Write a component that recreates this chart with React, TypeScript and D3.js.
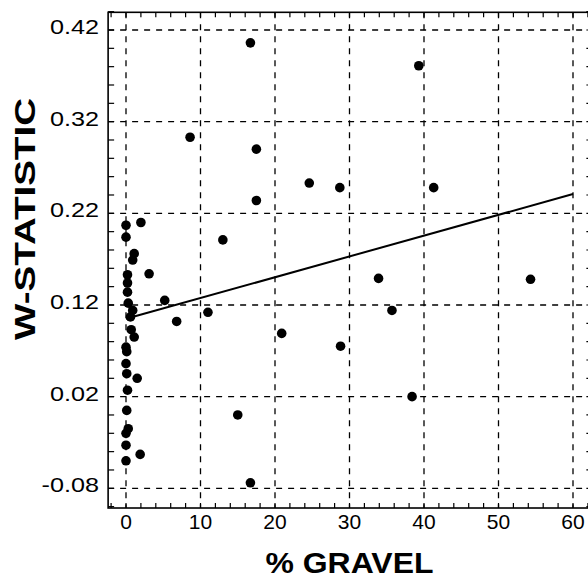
import React from "react";
import * as d3 from "d3";

const gravel = [
  0, 2.0, 0, 1.1, 0.9, 0.2, 3.1, 0.2, 0.2, 0.3, 5.2, 0.9, 0.6, 0.7, 1.1, 0, 0.1, 0, 0.1, 1.5, 0.2, 0.1, 0.3, 0, 0, 1.9, 0, 6.8,
  8.6, 17.5, 24.6, 28.7, 41.3, 17.5, 13.0, 33.9, 54.3, 11.0, 35.7, 20.9, 28.8, 38.4, 15.0, 16.7, 16.7, 39.3,
];
const wStat = [
  0.207, 0.21, 0.194, 0.176, 0.169, 0.153, 0.154, 0.144, 0.134, 0.122, 0.125, 0.114, 0.107, 0.093, 0.085, 0.074, 0.069, 0.056, 0.045, 0.04, 0.027, 0.005, -0.015, -0.02, -0.033, -0.043, -0.05, 0.102,
  0.303, 0.29, 0.253, 0.248, 0.248, 0.234, 0.191, 0.149, 0.148, 0.112, 0.114, 0.089, 0.075, 0.02, 0.0, -0.074, 0.406, 0.381,
];
const xTicks = [0, 10, 20, 30, 40, 50, 60];
const yTicks = [-0.08, 0.02, 0.12, 0.22, 0.32, 0.42];
const yTickLabels = ["-0.08", "0.02", "0.12", "0.22", "0.32", "0.42"];
const fitIntercept = 0.1049;
const fitSlope = 0.002269;
const fitRange = [0, 60];
const xDomain = [-2.4, 62.6];
const yDomain = [-0.1015, 0.4393];

const charW: Record<string, number> = { "-": 0.333, ".": 0.278 };
function labelWidth(s: string, size: number, stretch: number) {
  let w = 0;
  for (const c of s) w += charW[c] ?? 0.556;
  return w * size * stretch;
}

export default function App() {
  const W = 588, H = 583;
  const x = d3.scaleLinear().domain([0, 60]).range([126, 573]);
  const y = d3.scaleLinear().domain([-0.08, 0.42]).range([488.3, 30]);
  const left = x(xDomain[0]), right = x(xDomain[1]);
  const top = y(yDomain[1]), bottom = y(yDomain[0]);

  const minorX = d3.range(-2, 63, 2);
  const minorY = d3.range(-0.1, 0.4401, 0.02);
  const line = d3.line<number>().x((d) => x(d)).y((d) => y(fitIntercept + fitSlope * d));
  const tl = 5;
  const font = "'Liberation Sans', Arial, Helvetica, sans-serif";

  return (
    <svg width={W} height={H} style={{ position: "absolute", left: 0, top: 0, background: "#fff" }}>
      <rect x={0} y={0} width={W} height={H} fill="#fff" />
      {/* grid */}
      <g stroke="#000" strokeWidth={1.3} strokeDasharray="6,6">
        {xTicks.map((t) => (
          <line key={"gx" + t} x1={x(t)} x2={x(t)} y1={top} y2={bottom} />
        ))}
        {yTicks.map((t) => (
          <line key={"gy" + t} x1={left} x2={right} y1={y(t)} y2={y(t)} />
        ))}
      </g>
      {/* minor ticks */}
      <g stroke="#000" strokeWidth={1.2}>
        {minorX.map((t) => (
          <g key={"mx" + t}>
            <line x1={x(t)} x2={x(t)} y1={bottom} y2={bottom - tl} />
            <line x1={x(t)} x2={x(t)} y1={top} y2={top + tl} />
          </g>
        ))}
        {minorY.map((t, i) => (
          <g key={"my" + i}>
            <line x1={left} x2={left + tl + 1} y1={y(t)} y2={y(t)} />
            <line x1={right} x2={right - tl - 1} y1={y(t)} y2={y(t)} />
          </g>
        ))}
      </g>
      {/* frame */}
      <rect x={left} y={top} width={right - left} height={bottom - top} fill="none" stroke="#000" strokeWidth={1.6} />
      {/* fit line */}
      <path d={line(fitRange) || ""} fill="none" stroke="#000" strokeWidth={2} />
      {/* points */}
      <g fill="#000">
        {gravel.map((g, i) => (
          <circle key={"p" + i} cx={x(g)} cy={y(wStat[i])} r={4.8} />
        ))}
      </g>
      {/* tick labels */}
      <g fontFamily={font} fontSize={21} textAnchor="middle" fill="#000">
        {xTicks.map((t) => (
          <text key={"xl" + t} x={x(t)} y={528.5}>
            {t}
          </text>
        ))}
      </g>
      <g fontFamily={font} fontSize={21} textAnchor="end" fill="#000">
        {yTicks.map((t, i) => (
          <text
            key={"yl" + t}
            x={99}
            y={y(t) + 4}
            textLength={labelWidth(yTickLabels[i], 21, 1.2)}
            lengthAdjust="spacingAndGlyphs"
          >
            {yTickLabels[i]}
          </text>
        ))}
      </g>
      {/* axis titles */}
      <text
        x={x(30)}
        y={573}
        textAnchor="middle"
        fontFamily={font}
        fontWeight="bold"
        fontSize={29}
        textLength={168}
        lengthAdjust="spacingAndGlyphs"
        fill="#000"
      >
        % GRAVEL
      </text>
      <text
        transform={`translate(35,219) rotate(-90)`}
        textAnchor="middle"
        fontFamily={font}
        fontWeight="bold"
        fontSize={30}
        textLength={242}
        lengthAdjust="spacingAndGlyphs"
        fill="#000"
      >
        W-STATISTIC
      </text>
    </svg>
  );
}
